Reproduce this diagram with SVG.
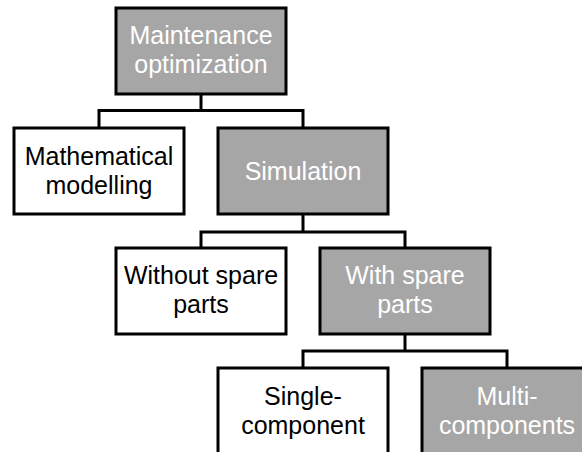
<svg xmlns="http://www.w3.org/2000/svg" width="582" height="452" viewBox="0 0 582 452">
<style>
.box{stroke:#000;stroke-width:3}
.g{fill:#a6a6a6}
.w{fill:#fff}
text{font-family:"Liberation Sans",Arial,sans-serif;font-size:25px;text-anchor:middle}
.tw{fill:#fff}
.tb{fill:#000}
.c{fill:none;stroke:#000;stroke-width:3}
</style>
<rect width="582" height="452" fill="#fff"/>
<g id="connectors">
<path class="c" d="M201,94V110.5M99,128V110.5H303V128"/>
<path class="c" d="M303,214V232M201,248V232H405V248"/>
<path class="c" d="M405,334V351M303,368V351H507V368"/>
</g>
<g id="root">
<rect class="box g" x="116" y="8" width="170" height="86"/>
<text class="tw" x="201" y="44">Maintenance</text>
<text class="tw" x="201" y="73">optimization</text>
</g>
<g id="math">
<rect class="box w" x="14" y="128" width="170" height="86"/>
<text class="tb" x="99" y="165">Mathematical</text>
<text class="tb" x="99" y="194">modelling</text>
</g>
<g id="sim">
<rect class="box g" x="218" y="128" width="170" height="86"/>
<text class="tw" x="303" y="180">Simulation</text>
</g>
<g id="without">
<rect class="box w" x="116" y="248" width="170" height="86"/>
<text class="tb" x="201" y="284">Without spare</text>
<text class="tb" x="201" y="313">parts</text>
</g>
<g id="with">
<rect class="box g" x="320" y="248" width="170" height="86"/>
<text class="tw" x="405" y="284">With spare</text>
<text class="tw" x="405" y="313">parts</text>
</g>
<g id="single">
<rect class="box w" x="218" y="368" width="170" height="86"/>
<text class="tb" x="303" y="405">Single-</text>
<text class="tb" x="303" y="434">component</text>
</g>
<g id="multi">
<rect class="box g" x="422" y="368" width="170" height="86"/>
<text class="tw" x="507" y="405">Multi-</text>
<text class="tw" x="507" y="434">components</text>
</g>
</svg>
